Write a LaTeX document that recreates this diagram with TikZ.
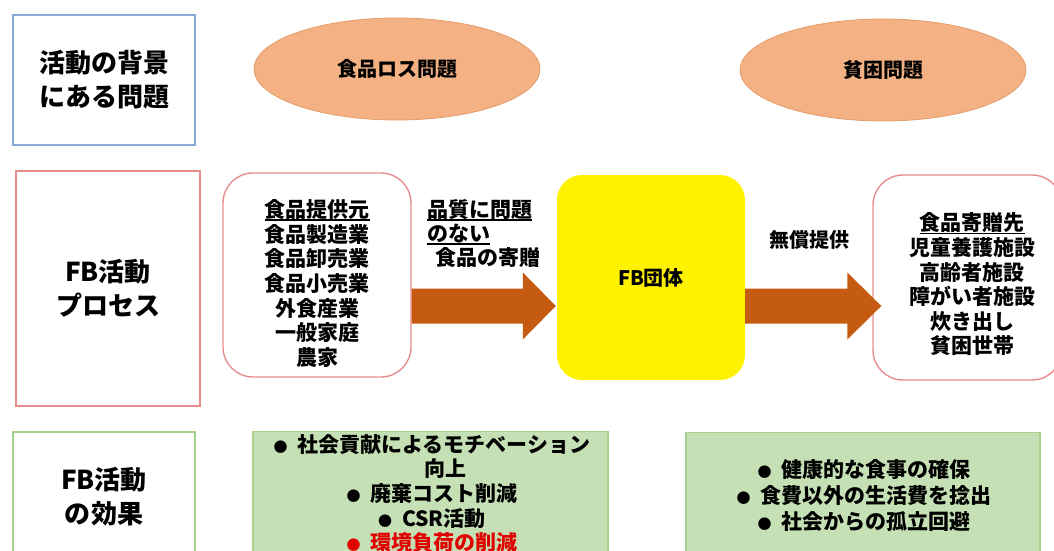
\documentclass[tikz,border=0pt]{standalone}
\usepackage{fontspec}
\setmainfont{Noto Sans CJK JP}
\usetikzlibrary{calc,shapes.geometric}
\definecolor{pinkb}{HTML}{E88D8D}
\definecolor{blueb}{HTML}{8EAADB}
\definecolor{greenb}{HTML}{A9D18E}
\definecolor{greenf}{HTML}{C5E0B4}
\definecolor{ellf}{HTML}{F4B183}
\definecolor{elld}{HTML}{E39C6C}
\definecolor{arrowc}{HTML}{C55A11}
\definecolor{redt}{HTML}{E00000}
\newcommand\myul[1]{\setbox0\hbox{#1}\rlap{\rule[-3.5pt]{\wd0}{1.8pt}}\box0}
\newcommand\bul{{\fontsize{14}{14}\selectfont ●}\hspace{10pt}}
\begin{document}
\begin{tikzpicture}[x=1pt,y=-1pt,
  frame/.style={draw, line width=1.4pt, inner sep=0pt},
  title/.style={font=\fontsize{26}{34}\selectfont\bfseries, align=center},
  body/.style={font=\fontsize{21}{24.6}\selectfont\bfseries, align=center, inner sep=0pt},
  ell/.style={ellipse, fill=ellf, draw=elld, line width=0.8pt, minimum width=286pt, minimum height=102pt, inner sep=0pt, font=\fontsize{20}{24}\selectfont\bfseries},
  rbox/.style={rounded corners=30pt, draw=pinkb, line width=1.4pt, minimum width=188pt, minimum height=204pt, inner sep=0pt},
  gbox/.style={draw=greenb, fill=greenf, line width=1.2pt, anchor=north, minimum height=140pt, inner sep=0pt},
  block/.style={fill=arrowc}
]
\useasboundingbox (0,0) rectangle (1054,551);

% left column
\node[frame, draw=blueb, minimum width=182pt, minimum height=130pt, title] (bg) at (104,80) {活動の背景\\にある問題};
\node[frame, draw=pinkb, minimum width=184pt, minimum height=235pt, title] (proc) at (108,288.5) {FB活動\\プロセス};
\node[frame, draw=greenb, minimum width=182pt, minimum height=130pt, title] (eff) at (104,497) {FB活動\\の効果};

% ellipses
\node[ell] (e1) at (397,69) {食品ロス問題};
\node[ell] (e2) at (883,70) {貧困問題};

% process row
\node[rbox] (src) at (317,275) {};
\node[body] (srct) at (317,283.5) {\myul{食品提供元}\\食品製造業\\食品卸売業\\食品小売業\\外食産業\\一般家庭\\農家};
\node[rounded corners=25pt, fill=yellow, minimum width=188pt, minimum height=205pt, inner sep=0pt, font=\fontsize{20}{24}\selectfont\bfseries] (fb) at (651,277.5) {FB団体};
\node[rbox, minimum width=189pt, minimum height=205pt] (dst) at (967.5,277.5) {};
\node[body] (dstt) at (972,284.5) {\myul{食品寄贈先}\\児童養護施設\\高齢者施設\\障がい者施設\\炊き出し\\貧困世帯};

% arrows
\coordinate (a1s) at ($(src.east)+(0,31)$);
\coordinate (a1t) at ($(fb.west)+(-1,28.5)$);
\fill[block] ($(a1s)+(0,-17.5)$) -- ($(a1t)+(-33,-17.5)$) -- ($(a1t)+(-33,-33.5)$) -- (a1t) -- ($(a1t)+(-33,33.5)$) -- ($(a1t)+(-33,17.5)$) -- ($(a1s)+(0,17.5)$) -- cycle;
\coordinate (a2s) at ($(fb.east)+(0,28.5)$);
\coordinate (a2t) at ($(dst.west)+(9,28.5)$);
\fill[block] ($(a2s)+(0,-17.5)$) -- ($(a2t)+(-34,-17.5)$) -- ($(a2t)+(-34,-33.5)$) -- (a2t) -- ($(a2t)+(-34,33.5)$) -- ($(a2t)+(-34,17.5)$) -- ($(a2s)+(0,17.5)$) -- cycle;

% arrow labels
\node[body, align=left, anchor=west, font=\fontsize{21}{24}\selectfont\bfseries] (lab1) at (427,233.5) {\myul{品質に問題}\\\myul{のない}\\\hspace*{8pt}食品の寄贈};
\node[body, font=\fontsize{20}{24}\selectfont\bfseries] (lab2) at (809,240) {無償提供};

% effect boxes
\node[gbox, minimum width=355pt] (g1) at (430.5,431) {};
\node[body] (g1t) at (432,493.5) {\bul 社会貢献によるモチベーション\\\hspace*{26pt}向上\\\bul 廃棄コスト削減\\\bul CSR活動\\\textcolor{redt}{\bul 環境負荷の削減}};
\node[gbox, minimum width=354pt] (g2) at (863,432) {};
\node[body, font=\fontsize{21}{26}\selectfont\bfseries] (g2t) at (864,496) {\bul 健康的な食事の確保\\\bul 食費以外の生活費を捻出\\\bul 社会からの孤立回避};
\end{tikzpicture}
\end{document}
